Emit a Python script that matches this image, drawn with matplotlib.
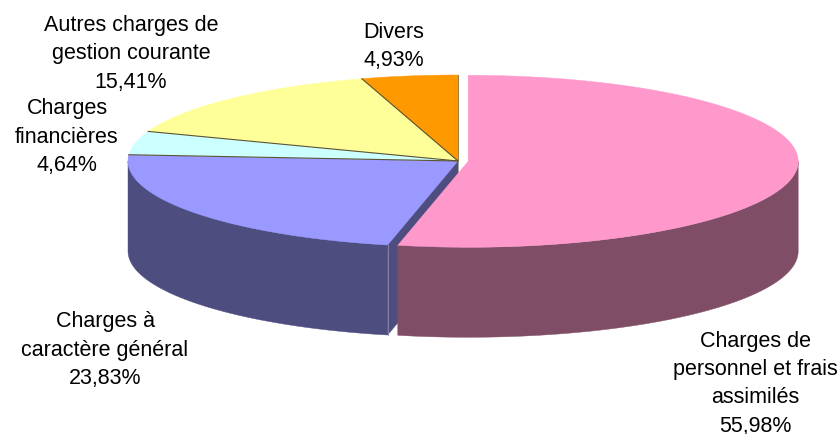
import numpy as np
import matplotlib
matplotlib.use("Agg")
import matplotlib.pyplot as plt

# ---- data (clockwise from 12 o'clock) ----
categories = [
    "Charges de\npersonnel et frais\nassimilés",
    "Charges à\ncaractère général",
    "Charges\nfinancières",
    "Autres charges de\ngestion courante",
    "Divers",
]
values = [55.98, 23.83, 4.64, 15.41, 4.93]
top_colors = ["#FF99CC", "#9999FF", "#CCFFFF", "#FFFF99", "#FF9900"]
explode = [0.031, 0, 0, 0, 0]

# ---- layout (pixel coordinates) ----
W, H = 840, 435
CX, CY, RX, RY, DEPTH = 458, 162, 330, 86, 90
label_pos = [(755, 346.7), (105, 327.3), (67, 114.3), (131, 31.0), (394, 37.7)]
LINE_STEP = 28.3
FONT = 15.5

plt.rcParams['font.family'] = ['Liberation Sans', 'DejaVu Sans']

fig = plt.figure(figsize=(W / 100, H / 100), dpi=100)
ax = fig.add_axes([0, 0, 1, 1])
ax.set_xlim(0, W)
ax.set_ylim(H, 0)
ax.axis("off")


def darken(c, f=0.5):
    r, g, b = matplotlib.colors.to_rgb(c)
    return (r * f, g * f, b * f)


total = float(sum(values))
bounds = np.concatenate([[0], np.cumsum(values) / total * 360.0])

slices = []
for i, v in enumerate(values):
    a, b = bounds[i], bounds[i + 1]
    mid = np.radians((a + b) / 2)
    cx = CX + explode[i] * RX * np.sin(mid)
    cy = CY - explode[i] * RY * np.cos(mid)
    slices.append(dict(a=a, b=b, cx=cx, cy=cy, color=top_colors[i],
                       z=-np.cos(mid), e=explode[i]))


def pt(s, phi_deg, dz=0.0):
    p = np.radians(phi_deg)
    return s["cx"] + RX * np.sin(p), s["cy"] - RY * np.cos(p) + dz


def draw_walls(s):
    side = darken(s["color"])
    a, b = s["a"], s["b"]
    if np.sin(np.radians(a)) < -1e-6:
        x1, y1 = pt(s, a)
        ax.fill([s["cx"], x1, x1, s["cx"]],
                [s["cy"], y1, y1 + DEPTH, s["cy"] + DEPTH],
                color=side, lw=0.3, ec=side, zorder=1)
    if np.sin(np.radians(b)) > 1e-6:
        x1, y1 = pt(s, b)
        ax.fill([s["cx"], x1, x1, s["cx"]],
                [s["cy"], y1, y1 + DEPTH, s["cy"] + DEPTH],
                color=side, lw=0.3, ec=side, zorder=1)
    lo, hi = max(a, 90), min(b, 270)
    if hi > lo:
        ph = np.linspace(lo, hi, 200)
        xs, ys = pt(s, ph)
        px = np.concatenate([xs, xs[::-1]])
        py = np.concatenate([ys, (ys + DEPTH)[::-1]])
        ax.fill(px, py, color=side, lw=0.3, ec=side, zorder=1)


# walls: non-exploded back-to-front, then exploded
for s in sorted([s for s in slices if s["e"] == 0], key=lambda s: s["z"]):
    draw_walls(s)
for s in slices:
    if s["e"] != 0:
        draw_walls(s)

# thin light line at corner of blue wall
s1 = slices[1]
xc, yc = pt(s1, s1["a"])
ax.plot([xc, xc], [yc, yc + DEPTH], color="#8a8ab0", lw=0.6, zorder=1.5)

# top faces
for s in slices:
    ph = np.linspace(s["a"], s["b"], 300)
    xs, ys = pt(s, ph)
    px = np.concatenate([[s["cx"]], xs, [s["cx"]]])
    py = np.concatenate([[s["cy"]], ys, [s["cy"]]])
    ax.fill(px, py, color=s["color"], lw=0.3, ec=s["color"], zorder=2)

# boundary lines on the top face between non-exploded slices
for i in range(2, len(slices)):
    s = slices[i]
    x1, y1 = pt(s, s["a"])
    ax.plot([s["cx"], x1], [s["cy"], y1], color="#5c5436", lw=0.8, zorder=3)
s = slices[-1]
x1, y1 = pt(s, s["b"])
ax.plot([s["cx"], x1], [s["cy"], y1], color="#8a6a30", lw=0.6, zorder=3)

# labels
for cat, v, (lx, ly) in zip(categories, values, label_pos):
    lines = cat.split("\n") + [f"{v:.2f}%".replace(".", ",")]
    for k, line in enumerate(lines):
        ax.text(lx, ly + k * LINE_STEP, line, ha="center", va="baseline",
                fontsize=FONT, color="black", zorder=5)

fig.savefig("out.png", dpi=100)
